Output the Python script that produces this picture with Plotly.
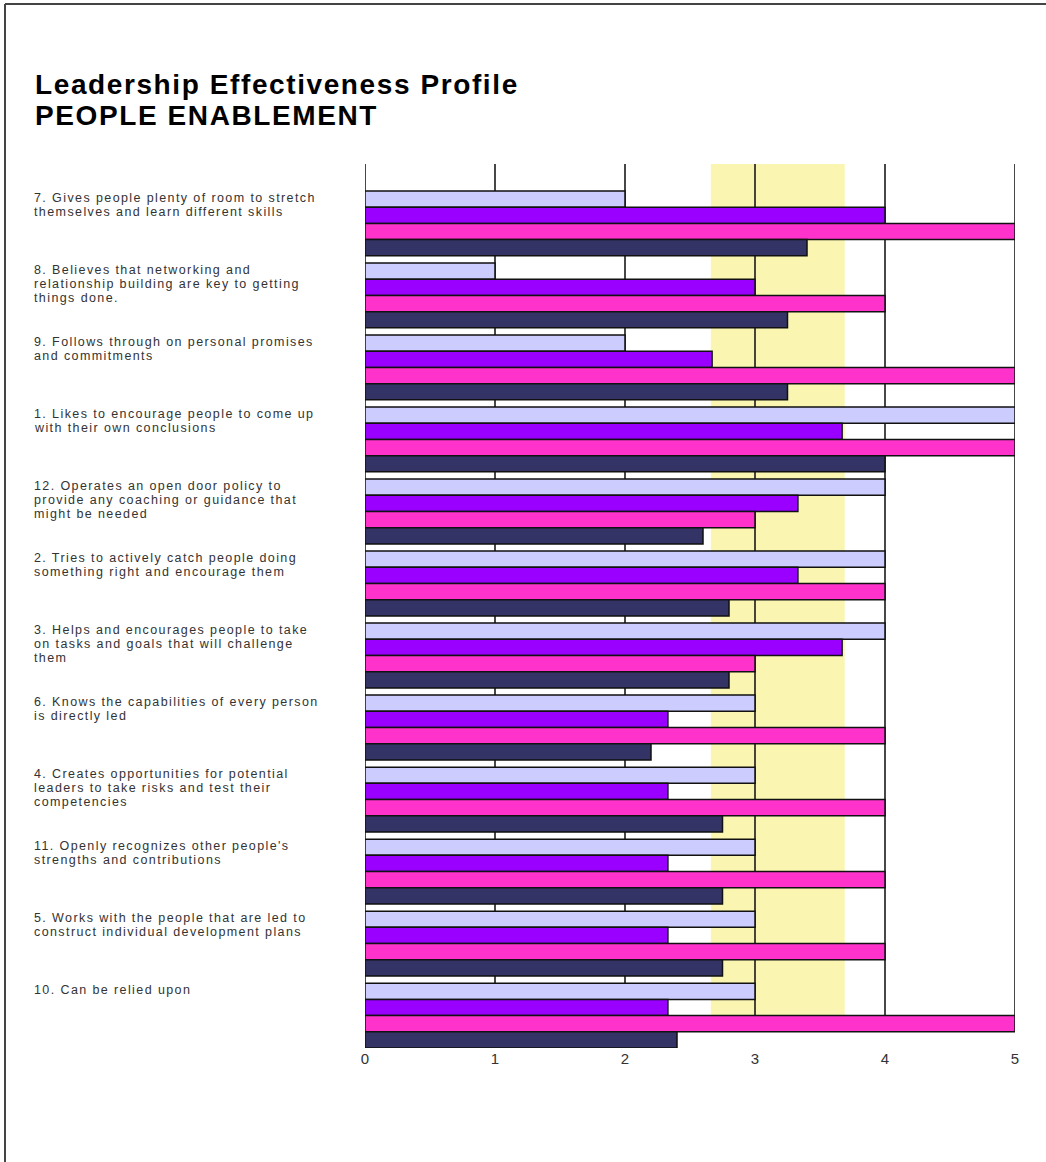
import plotly.graph_objects as go

# Statements, in display order (top to bottom)
labels = [
    "7. Gives people plenty of room to stretch\nthemselves and learn different skills",
    "8. Believes that networking and\nrelationship building are key to getting\nthings done.",
    "9. Follows through on personal promises\nand commitments",
    "1. Likes to encourage people to come up\nwith their own conclusions",
    "12. Operates an open door policy to\nprovide any coaching or guidance that\nmight be needed",
    "2. Tries to actively catch people doing\nsomething right and encourage them",
    "3. Helps and encourages people to take\non tasks and goals that will challenge\nthem",
    "6. Knows the capabilities of every person\nis directly led",
    "4. Creates opportunities for potential\nleaders to take risks and test their\ncompetencies",
    "11. Openly recognizes other people's\nstrengths and contributions",
    "5. Works with the people that are led to\nconstruct individual development plans",
    "10. Can be relied upon",
]

# Ratings per rater group
scores_a = [2, 1, 2, 5, 4, 4, 4, 3, 3, 3, 3, 3]
scores_b = [4, 3, 2.67, 3.67, 3.33, 3.33, 3.67, 2.33, 2.33, 2.33, 2.33, 2.33]
scores_c = [5, 4, 5, 5, 3, 4, 3, 4, 4, 4, 4, 5]
scores_d = [3.4, 3.25, 3.25, 4, 2.6, 2.8, 2.8, 2.2, 2.75, 2.75, 2.75, 2.4]

series_names = ["Group A", "Group B", "Group C", "Group D"]
series_colors = ["#CCCCFF", "#9900FF", "#FF33CC", "#333366"]

# Reference band on the rating scale
band_low = 2.66
band_high = 3.69

x_ticks = [0, 1, 2, 3, 4, 5]

title_lines = ["Leadership Effectiveness Profile", "PEOPLE ENABLEMENT"]

FONT = "Liberation Sans, Arial, Helvetica, sans-serif"
W, H = 1046, 1162
ML, MR, MT, MB = 365, 31, 164, 114
PW = W - ML - MR
PH = H - MT - MB

n = len(labels)
y_top = -0.825
y_bottom = n - 1 + 0.45
keys = [lab.split(".")[0] for lab in labels]

fig = go.Figure()
for name, color, vals in zip(series_names, series_colors,
                             [scores_a, scores_b, scores_c, scores_d]):
    fig.add_trace(go.Bar(
        x=vals, y=keys, orientation="h", name=name,
        marker=dict(color=color, line=dict(color="#111111", width=1.5)),
        showlegend=False, hoverinfo="x+y",
    ))


def px_x(p):
    return (p - ML) / PW


def px_y(p):
    return (H - MB - p) / PH


shapes = []
# shaded band
shapes.append(dict(type="rect", xref="x", yref="y", x0=band_low, x1=band_high,
                   y0=y_top, y1=n - 1, fillcolor="#FAF6B1", line=dict(width=0),
                   layer="below"))
# vertical grid lines
for t in x_ticks:
    shapes.append(dict(type="line", xref="x", yref="y", x0=t, x1=t,
                       y0=y_top, y1=n - 1,
                       line=dict(color="#1a1a1a", width=1.6), layer="below"))
# page frame (top and left edges)
shapes.append(dict(type="line", xref="paper", yref="paper",
                   x0=px_x(5), x1=px_x(1050), y0=px_y(4), y1=px_y(4),
                   line=dict(color="#444444", width=2)))
shapes.append(dict(type="line", xref="paper", yref="paper",
                   x0=px_x(5), x1=px_x(5), y0=px_y(4), y1=px_y(1170),
                   line=dict(color="#444444", width=2)))

annotations = []
# title
for k, line in enumerate(title_lines):
    annotations.append(dict(
        text="<b>" + line + "</b>", xref="paper", yref="paper",
        x=px_x(33), y=px_y(84.5 + 31.5 * k), xanchor="left", yanchor="middle",
        align="left", showarrow=False,
        font=dict(family=FONT, size=28, color="#000000"),
    ))
n_title = len(annotations)

# statement labels, one annotation per text line
for i, (key, lab) in enumerate(zip(keys, labels)):
    for k, line in enumerate(lab.split("\n")):
        annotations.append(dict(
            text=line, xref="paper", yref="y",
            x=px_x(32), y=i - 0.45, xanchor="left", yanchor="top",
            align="left", yshift=2 - 14 * k, showarrow=False,
            font=dict(family=FONT, size=12.5, color="#333333"),
        ))

fig.update_layout(
    width=W, height=H,
    margin=dict(l=ML, r=MR, t=MT, b=MB, pad=0),
    paper_bgcolor="white", plot_bgcolor="white",
    barmode="group", bargap=0.1, bargroupgap=0,
    shapes=shapes, annotations=annotations,
    xaxis=dict(range=[0, 5], tickvals=x_ticks, showgrid=False, zeroline=False,
               showline=False, ticks="", fixedrange=True,
               tickfont=dict(family=FONT, size=15, color="#333333")),
    yaxis=dict(type="category", categoryorder="array", categoryarray=keys,
               range=[y_bottom, y_top], showticklabels=False, showgrid=False,
               zeroline=False, showline=False, ticks="", fixedrange=True),
)

# widen the tracking of the title and statement text
post_js = """
var gd = document.getElementById('{plot_id}');
function track() {
  gd.querySelectorAll('g.annotation').forEach(function (g) {
    var idx = +g.getAttribute('data-index');
    var t = g.querySelector('text.annotation-text');
    if (t) { t.style.letterSpacing = idx < %d ? '1.6px' : '1.4px'; }
  });
}
track();
if (gd.on) { gd.on('plotly_afterplot', track); }
setTimeout(track, 0);
setTimeout(track, 200);
""" % n_title

fig.write_html("out.html", post_script=post_js)
